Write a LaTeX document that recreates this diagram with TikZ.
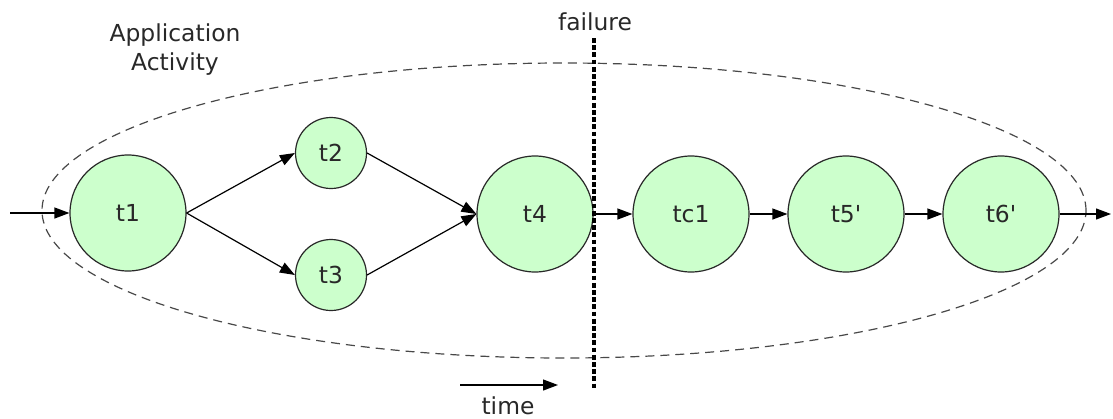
\documentclass[tikz,border=0pt]{standalone}
\usepackage{fontspec}
\setmainfont{DejaVu Sans}
\usetikzlibrary{arrows.meta}
\definecolor{taskgreen}{RGB}{204,255,204}
\definecolor{inkgray}{RGB}{40,40,40}

\begin{document}
\begin{tikzpicture}[x=0.5pt,y=-0.5pt,
  every node/.style={font=\fontsize{11.7}{14.5}\selectfont,text=inkgray},
  task/.style={circle,draw=inkgray,line width=0.6pt,fill=taskgreen,minimum size=58pt,inner sep=0pt},
  subtask/.style={task,minimum size=35.5pt},
  flow/.style={-{Triangle[length=7.5pt,width=5.5pt]},line width=0.6pt,draw=black}]
\useasboundingbox (0,0) rectangle (1113,418);
% activity boundary
\draw[inkgray!85,line width=0.6pt,dash pattern=on 4.5pt off 3pt] (564,210.5) ellipse [x radius=261pt,y radius=73.75pt];
\node[align=center] (app) at (175,50) {Application\\Activity};
% tasks
\node[task] (t1) at (128,213) {t1};
\node[subtask] (t2) at (331,153) {t2};
\node[subtask] (t3) at (331,275) {t3};
\node[task] (t4) at (535,214) {t4};
\node[task] (tc1) at (691,214) {tc1};
\node[task] (t5) at (846,214) {t5\textquotesingle};
\node[task] (t6) at (1001,214) {t6\textquotesingle};
\coordinate (src) at (10,213);
\coordinate (snk) at (1111,214);
\path (src) edge[flow] (t1.west);
\path (t1.east) edge[flow] (t2.west);
\path (t1.east) edge[flow] (t3.west);
\path (t2.east) edge[flow] (t4.west);
\path (t3.east) edge[flow] (t4.west);
\path (t4.east) edge[flow] (tc1.west);
\path (tc1.east) edge[flow] (t5.west);
\path (t5.east) edge[flow] (t6.west);
\path (t6.east) edge[flow] (snk);
% failure marker
\node (fail) at (595,22) {failure};
\coordinate (ftop) at (594,38);
\coordinate (fbot) at (594,390);
\draw[black,line width=1.6pt,dash pattern=on 2.4pt off 1.2pt] (ftop) -- (fbot);
% time direction
\coordinate (ts) at (460,385);
\coordinate (te) at (558,385);
\draw[flow] (ts) -- (te);
\node (time) at (508,406) {time};
\end{tikzpicture}
\end{document}
